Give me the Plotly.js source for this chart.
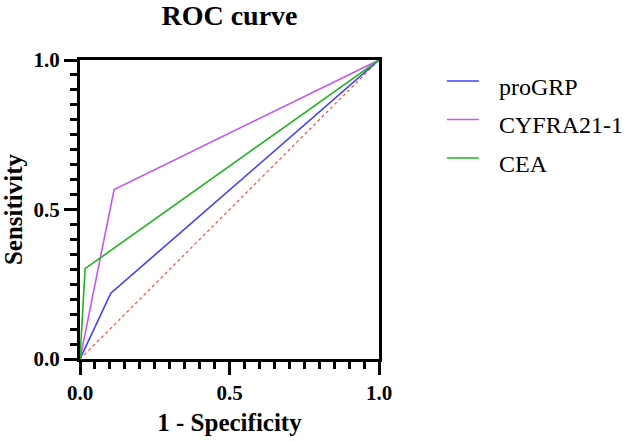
<!DOCTYPE html>
<html>
<head>
<meta charset="utf-8">
<script src="https://cdn.plot.ly/plotly-3.0.1.min.js"></script>
<style>
  html, body { margin: 0; padding: 0; background: #fff; }
  #chart { width: 627px; height: 442px; }
</style>
</head>
<body>
<div id="chart"></div>
<script>
// ROC curves: 1 - specificity (x) against sensitivity (y) for each marker
const markers = ["proGRP", "CYFRA21-1", "CEA"];
const fprProGRP = [0, 0.103, 1];
const tprProGRP = [0, 0.22, 1];
const fprCyfra = [0, 0.114, 1];
const tprCyfra = [0, 0.567, 1];
const fprCEA = [0, 0.017, 1];
const tprCEA = [0, 0.302, 1];
const chanceLine = [0, 1];
const tickVals = [0, 0.5, 1];
const tickText = ["0.0", "0.5", "1.0"];

const colors = ["#4040ff", "#c458f0", "#20b520"];
const serif = "Liberation Serif";

const series = [
  [fprProGRP, tprProGRP],
  [fprCyfra, tprCyfra],
  [fprCEA, tprCEA]
];

const traces = [{
  x: chanceLine, y: chanceLine,
  mode: "lines",
  line: { color: "#ff4a4a", width: 1.2, dash: "dot" },
  showlegend: false,
  hoverinfo: "skip"
}];

series.forEach(function (s, i) {
  traces.push({
    x: s[0], y: s[1],
    name: markers[i],
    mode: "lines",
    line: { color: colors[i], width: 1.6 },
    showlegend: false
  });
});

function axis(titleText, titleStandoff) {
  return {
    range: [0, 1],
    tickvals: tickVals,
    ticktext: tickText,
    ticks: "outside",
    ticklen: 13,
    tickwidth: 3,
    tickcolor: "#000",
    minor: { dtick: 0.05, ticks: "outside", ticklen: 7, tickwidth: 3, tickcolor: "#000" },
    showline: true,
    linewidth: 3,
    linecolor: "#000",
    mirror: true,
    showgrid: false,
    zeroline: false,
    fixedrange: true,
    tickfont: { family: serif, size: 21, color: "#000", weight: "bold" },
    title: {
      text: titleText,
      standoff: titleStandoff,
      font: { family: serif, size: 25, color: "#000", weight: "bold" }
    }
  };
}

// Key on the right: a short coloured stroke followed by the marker name
const keyStep = 0.129;
const shapes = [];
const annotations = [];
markers.forEach(function (name, i) {
  const yLine = 0.93 - i * keyStep;
  shapes.push({
    type: "line", xref: "paper", yref: "paper",
    x0: 1.227, x1: 1.334, y0: yLine, y1: yLine,
    line: { color: colors[i], width: 1.6 }
  });
  annotations.push({
    xref: "paper", yref: "paper",
    x: 1.395, y: yLine - 0.02,
    xanchor: "left", yanchor: "middle",
    text: name, showarrow: false,
    font: { family: serif, size: 24, color: "#000" }
  });
});

const layout = {
  width: 627,
  height: 442,
  paper_bgcolor: "#fff",
  plot_bgcolor: "#fff",
  margin: { l: 80, r: 248, t: 60, b: 83 },
  title: {
    text: "ROC curve",
    x: 0.5, xref: "paper", xanchor: "center",
    y: 0.944, yref: "container", yanchor: "bottom",
    font: { family: serif, size: 28, color: "#000", weight: "bold" }
  },
  xaxis: axis("1 - Specificity", 10),
  yaxis: axis("Sensitivity", 8),
  showlegend: false,
  shapes: shapes,
  annotations: annotations
};

Plotly.newPlot("chart", traces, layout, { displayModeBar: false, staticPlot: true });
</script>
</body>
</html>
